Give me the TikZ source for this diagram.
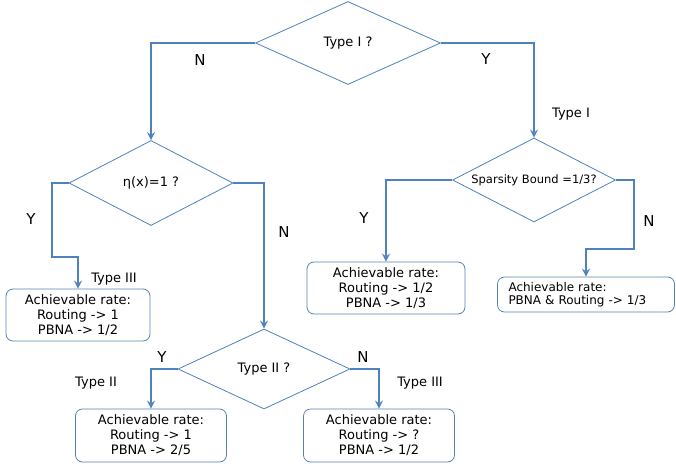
\documentclass[tikz,border=0pt]{standalone}
\usepackage{fontspec}
\setmainfont{DejaVu Sans}
\usetikzlibrary{shapes,shapes.geometric,arrows}
\definecolor{flowblue}{RGB}{79,129,189}
\tikzstyle{decision} = [diamond, draw=flowblue, line width=0.8pt, inner sep=0pt, text centered]
\tikzstyle{result} = [rectangle, rounded corners=7pt, draw=flowblue!80!gray, line width=0.8pt, inner sep=0pt, align=center, font=\fontsize{13}{15}\selectfont]
\tikzstyle{arrow} = [draw=flowblue, line width=2.5pt, ->, >=stealth]
\tikzstyle{yn} = [font=\fontsize{15}{17}\selectfont]
\tikzstyle{kind} = [font=\fontsize{13}{15}\selectfont]

\begin{document}
\begin{tikzpicture}[x=1pt, y=-1pt, font=\fontsize{13}{15}\selectfont]
\useasboundingbox (0,0) rectangle (676,468);

\node(typeI)    [decision, minimum width=185pt, minimum height=83pt] at (348,43)  {\makebox[0pt]{Type I ?}};
\node(eta)      [decision, minimum width=164pt, minimum height=85pt] at (151,183) {\makebox[0pt]{η(x)=1 ?}};
\node(sparsity) [decision, minimum width=163pt, minimum height=84pt] at (534,180) {\makebox[0pt]{\fontsize{11.5}{14}\selectfont Sparsity Bound =1/3?}};
\node(typeII)   [decision, minimum width=172pt, minimum height=80pt] at (264,369) {\makebox[0pt]{Type II ?}};

\node(rateIII)  [result, minimum width=144pt, minimum height=52pt] at (78,315)      {Achievable rate:\\Routing -> 1\\PBNA -> 1/2};
\node(rateHalf) [result, minimum width=158pt, minimum height=52pt] at (386,288)     {Achievable rate:\\Routing -> 1/2\\PBNA -> 1/3};
\node(rateThird)[result, minimum width=177pt, minimum height=35pt, text width=155pt, align=left, font=\fontsize{12}{12.5}\selectfont] at (586,294.5) {Achievable rate:\\PBNA \& Routing -> 1/3};
\node(rateII)   [result, minimum width=151pt, minimum height=53pt] at (151,435.5)   {Achievable rate:\\Routing -> 1\\PBNA -> 2/5};
\node(rateOpen) [result, minimum width=151pt, minimum height=53pt] at (379,435.5)   {Achievable rate:\\Routing -> ?\\PBNA -> 1/2};

\coordinate(bendIII)   at (52,257);
\coordinate(bendThird) at (634,249);

\draw [arrow] (typeI.west)    -| (eta.north);
\draw [arrow] (typeI.east)    -| (sparsity.north);
\draw [arrow] (eta.west)      -| (bendIII) -| (rateIII.north);
\draw [arrow] (eta.east)      -| (typeII.north);
\draw [arrow] (sparsity.west) -| (rateHalf.north);
\draw [arrow] (sparsity.east) -| (bendThird) -| (rateThird.north);
\draw [arrow] (typeII.west)   -| (rateII.north);
\draw [arrow] (typeII.east)   -| (rateOpen.north);

\node(nI)     [yn] at (200,60)  {N};
\node(yI)     [yn] at (486,59)  {Y};
\node(yEta)   [yn] at (31,219)  {Y};
\node(nEta)   [yn] at (284,232) {N};
\node(ySp)    [yn] at (364,218) {Y};
\node(nSp)    [yn] at (649,221) {N};
\node(yII)    [yn] at (162,357) {Y};
\node(nII)    [yn] at (363,357) {N};

\node(kindI)    [kind] at (571,114) {Type I};
\node(kindIII)  [kind] at (114,279) {Type III};
\node(kindII)   [kind] at (96,383)  {Type II};
\node(kindIIIb) [kind] at (420,383) {Type III};

\end{tikzpicture}
\end{document}
